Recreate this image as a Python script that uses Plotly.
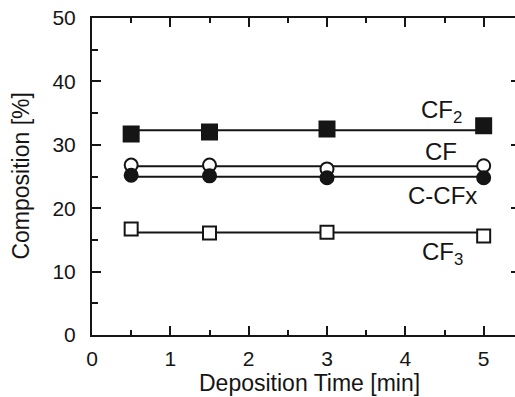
import plotly.graph_objects as go
import numpy as np

# ---- data ----
time_min = [0.5, 1.5, 3, 5]
cf2 = [31.7, 32.0, 32.5, 33.0]
cf = [26.8, 26.8, 26.2, 26.7]
c_cfx = [25.2, 25.1, 24.8, 24.8]
cf3 = [16.7, 16.1, 16.2, 15.6]

x_ticks = [0, 1, 2, 3, 4, 5]
y_ticks = [0, 10, 20, 30, 40, 50]

INK = "#151515"
FONT = "Liberation Sans, Arial, sans-serif"

series = [
    ("CF2", cf2, "square", INK, 15),
    ("CF", cf, "circle", "white", 13),
    ("C-CFx", c_cfx, "circle", INK, 13),
    ("CF3", cf3, "square", "white", 13),
]

fig = go.Figure()

# fitted (mean) lines
for name, vals, sym, fill, sz in series:
    m = float(np.mean(vals))
    fig.add_trace(go.Scatter(
        x=[min(time_min), max(time_min)], y=[m, m], mode="lines",
        line=dict(color=INK, width=2), showlegend=False, hoverinfo="skip"))

# markers
for name, vals, sym, fill, sz in series:
    fig.add_trace(go.Scatter(
        x=time_min, y=vals, mode="markers", name=name, showlegend=False,
        marker=dict(symbol=sym, size=sz, color=fill,
                    line=dict(color=INK, width=2))))

# dummy trace for right-side ticks
fig.add_trace(go.Scatter(x=[0], y=[0], yaxis="y2", mode="markers",
                         marker=dict(opacity=0), showlegend=False, hoverinfo="skip"))

fig.update_layout(
    width=515, height=397,
    margin=dict(l=92, r=0, t=18, b=62),
    paper_bgcolor="white", plot_bgcolor="white",
    font=dict(family=FONT, size=21, color=INK),
    xaxis=dict(range=[0, 5.4], tickvals=x_ticks, ticktext=[str(v) for v in x_ticks],
               showgrid=False, zeroline=False, showline=True, linecolor=INK, linewidth=2,
               mirror="ticks", ticks="inside", ticklen=9, tickwidth=2, tickcolor=INK,
               minor=dict(dtick=0.5, ticks="inside", ticklen=5, tickwidth=2, tickcolor=INK),
               ticklabelstandoff=4, tickfont=dict(size=21)),
    yaxis=dict(range=[0, 50], tickvals=y_ticks, ticktext=[str(v) for v in y_ticks],
               showgrid=False, zeroline=False, showline=True, linecolor=INK, linewidth=2,
               mirror=False, ticks="inside", ticklen=9, tickwidth=2, tickcolor=INK,
               minor=dict(dtick=5, ticks="inside", ticklen=6, tickwidth=2, tickcolor=INK),
               ticklabelstandoff=10, tickfont=dict(size=21)),
    yaxis2=dict(range=[0, 50], overlaying="y", side="right", tickvals=[10, 20, 30, 40],
                showticklabels=False, showgrid=False, zeroline=False, showline=False,
                ticks="inside", ticklen=4, tickwidth=2, tickcolor=INK),
    annotations=[
        dict(text="Composition [%]", xref="paper", yref="paper", x=-0.170, y=0.5,
             xanchor="center", yanchor="middle", textangle=-90, showarrow=False,
             font=dict(size=23, family=FONT, color=INK)),
        dict(text="Deposition Time [min]", xref="paper", yref="paper", x=0.515, y=-0.151,
             xanchor="center", yanchor="middle", showarrow=False,
             font=dict(size=23, family=FONT, color=INK)),
        dict(text="CF<sub>2</sub>", x=4.46, y=35.2, xref="x", yref="y", showarrow=False,
             font=dict(size=24, family=FONT, color=INK)),
        dict(text="CF", x=4.45, y=28.9, xref="x", yref="y", showarrow=False,
             font=dict(size=24, family=FONT, color=INK)),
        dict(text="C-CFx", x=4.47, y=22.0, xref="x", yref="y", showarrow=False,
             font=dict(size=24, family=FONT, color=INK)),
        dict(text="CF<sub>3</sub>", x=4.48, y=12.8, xref="x", yref="y", showarrow=False,
             font=dict(size=24, family=FONT, color=INK)),
    ],
)

fig.write_html("out.html", config={"displayModeBar": False},
               post_script="document.body.style.margin='0';document.body.style.overflow='hidden';")
